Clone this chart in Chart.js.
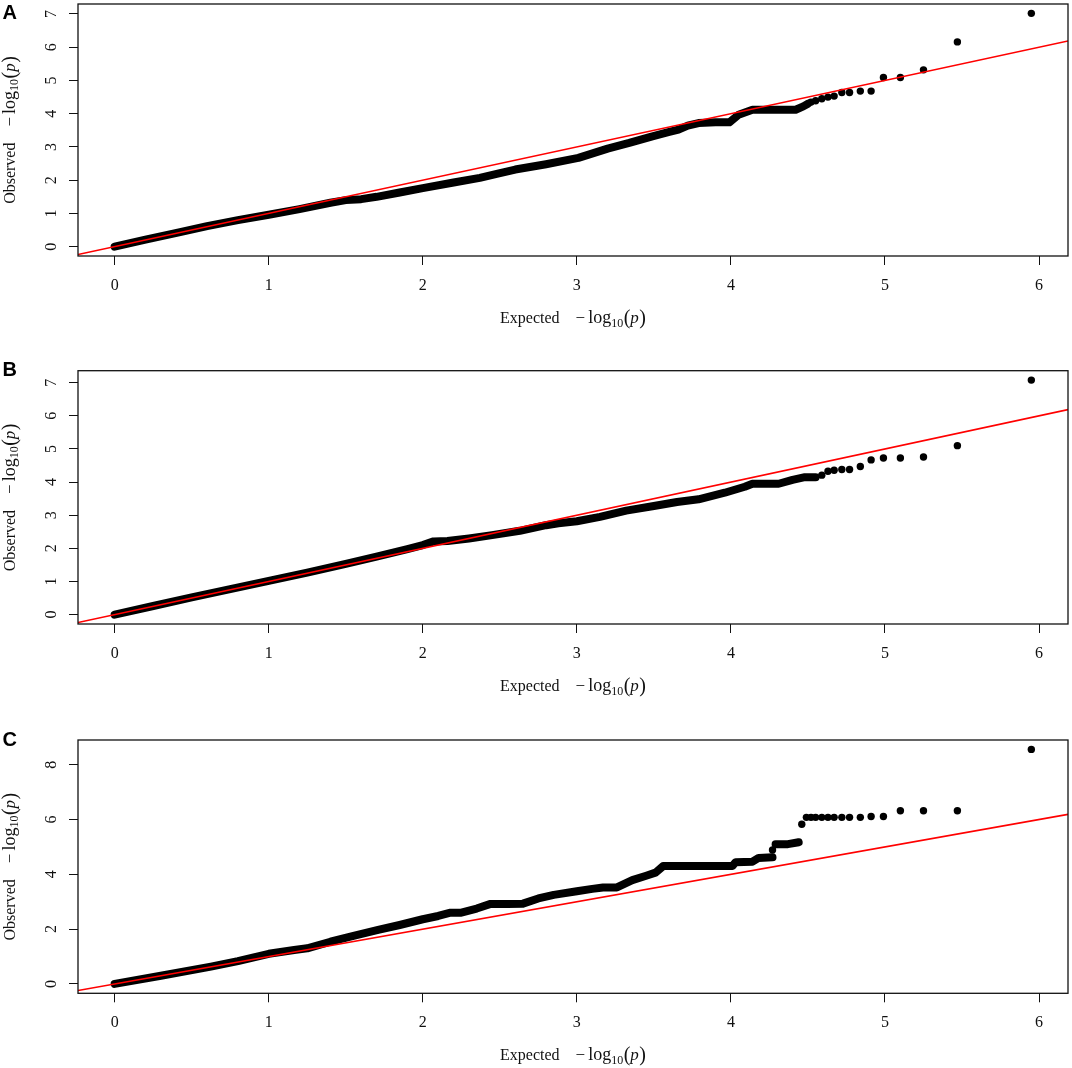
<!DOCTYPE html>
<html>
<head>
<meta charset="utf-8">
<script src="https://cdn.jsdelivr.net/npm/chart.js@4.4.1/dist/chart.umd.min.js"></script>
<style>
  body { margin: 0; background: #fff; width: 1072px; height: 1068px; position: relative; overflow: hidden; }
  .panel { position: absolute; left: 0; width: 1072px; height: 370px; }
</style>
</head>
<body>
<div class="panel" style="top:0px"><canvas id="qqA"></canvas></div>
<div class="panel" style="top:350px"><canvas id="qqB"></canvas></div>
<div class="panel" style="top:720px"><canvas id="qqC"></canvas></div>
<script>
// QQ plots of -log10(p): expected vs observed, three panels

const xTickVals = [0, 1, 2, 3, 4, 5, 6];
const yTicksAB = [0, 1, 2, 3, 4, 5, 6, 7];
const yTicksC = [0, 2, 4, 6, 8];

// Panel A - dense part of the point cloud, then the separate tail points
const aBandExp = [0, 0.2, 0.41, 0.6, 0.8, 1.0, 1.2, 1.4, 1.5, 1.6, 1.7, 1.85, 2.0, 2.2, 2.37, 2.48, 2.6, 2.8, 3.01, 3.2, 3.34, 3.49, 3.6, 3.66, 3.72, 3.79, 3.9, 3.99, 4.05, 4.14, 4.3, 4.42, 4.47, 4.5];
const aBandObs = [0, 0.21, 0.42, 0.62, 0.8, 0.96, 1.13, 1.32, 1.4, 1.43, 1.5, 1.63, 1.76, 1.93, 2.07, 2.19, 2.32, 2.48, 2.67, 2.95, 3.12, 3.32, 3.45, 3.52, 3.64, 3.72, 3.74, 3.74, 3.97, 4.12, 4.12, 4.12, 4.22, 4.3];
const aTailExp = [4.52, 4.55, 4.59, 4.63, 4.67, 4.72, 4.77, 4.84, 4.91, 4.99, 5.10, 5.25, 5.47, 5.95];
const aTailObs = [4.35, 4.39, 4.45, 4.50, 4.53, 4.64, 4.64, 4.68, 4.68, 5.09, 5.09, 5.32, 6.16, 7.02];

// Panel B
const bBandExp = [0, 0.25, 0.5, 0.75, 1.0, 1.25, 1.5, 1.7, 1.9, 2.0, 2.07, 2.16, 2.3, 2.45, 2.63, 2.8, 2.88, 3.0, 3.15, 3.32, 3.5, 3.65, 3.79, 3.96, 4.09, 4.14, 4.31, 4.4, 4.48, 4.55];
const bBandObs = [0, 0.26, 0.52, 0.77, 1.02, 1.27, 1.53, 1.75, 1.98, 2.1, 2.21, 2.22, 2.3, 2.4, 2.53, 2.7, 2.76, 2.82, 2.95, 3.14, 3.28, 3.4, 3.48, 3.68, 3.86, 3.95, 3.95, 4.07, 4.15, 4.15];
const bTailExp = [4.59, 4.63, 4.67, 4.72, 4.77, 4.84, 4.91, 4.99, 5.10, 5.25, 5.47, 5.95];
const bTailObs = [4.21, 4.33, 4.36, 4.38, 4.38, 4.47, 4.67, 4.73, 4.73, 4.76, 5.10, 7.08];

// Panel C (band breaks into two runs near 4.3)
const cBandExp = [0, 0.3, 0.625, 0.8, 1.0, 1.165, 1.25, 1.4, 1.55, 1.71, 1.85, 2.0, 2.1, 2.18, 2.25, 2.35, 2.44, 2.55, 2.65, 2.75, 2.85, 3.0, 3.1, 3.17, 3.26, 3.36, 3.45, 3.51, 3.56, 3.8, 4.01, 4.03, 4.14, 4.18, 4.27];
const cBandObs = [0, 0.3, 0.63, 0.83, 1.1, 1.24, 1.3, 1.54, 1.75, 1.97, 2.15, 2.36, 2.48, 2.6, 2.6, 2.75, 2.92, 2.92, 2.93, 3.12, 3.25, 3.38, 3.47, 3.52, 3.52, 3.79, 3.95, 4.06, 4.3, 4.3, 4.3, 4.44, 4.46, 4.6, 4.62];
const cStepExp = [4.29, 4.37, 4.44];
const cStepObs = [5.10, 5.10, 5.17];
const cTailExp = [4.27, 4.46, 4.49, 4.52, 4.55, 4.59, 4.63, 4.67, 4.72, 4.77, 4.84, 4.91, 4.99, 5.10, 5.25, 5.47, 5.95];
const cTailObs = [4.89, 5.83, 6.08, 6.08, 6.08, 6.08, 6.08, 6.08, 6.08, 6.08, 6.08, 6.11, 6.11, 6.32, 6.32, 6.32, 8.56];

const serif = "'Liberation Serif', 'DejaVu Serif', serif";
const CANVAS_H = 370;

const toPoints = (xs, ys) => xs.map((x, i) => ({ x: x, y: ys[i] }));

const panels = [
    { id: 'qqA', letter: 'A', top: 0, boxTop: 2, boxBottom: 256, letterY: 18.5, yTicks: yTicksAB,
      bands: [[aBandExp, aBandObs]], tail: [aTailExp, aTailObs] },
    { id: 'qqB', letter: 'B', top: 350, boxTop: 370.7, boxBottom: 624, letterY: 376.3, yTicks: yTicksAB,
      bands: [[bBandExp, bBandObs]], tail: [bTailExp, bTailObs] },
    { id: 'qqC', letter: 'C', top: 720, boxTop: 740, boxBottom: 993.3, letterY: 745.5, yTicks: yTicksC,
      bands: [[cBandExp, cBandObs], [cStepExp, cStepObs]], tail: [cTailExp, cTailObs] }
];

// "Word   -log10(p)" with subscript and italic p
function drawLogLabel(ctx, word, cx, baseline) {
    const parts = [
        { t: word, f: '16px ' + serif, dy: 0, gap: 16 },
        { t: '\u2212', f: '17px ' + serif, dy: 0, gap: 3 },
        { t: 'log', f: '18px ' + serif, dy: 0, gap: 0 },
        { t: '10', f: '12px ' + serif, dy: 3.5, gap: 0.5 },
        { t: '(', f: '20px ' + serif, dy: 1, gap: 0 },
        { t: 'p', f: 'italic 17px ' + serif, dy: 0, gap: 0.5 },
        { t: ')', f: '20px ' + serif, dy: 1, gap: 0 }
    ];
    let total = 0;
    parts.forEach(p => { ctx.font = p.f; p.w = ctx.measureText(p.t).width; total += p.w + p.gap; });
    total -= parts[parts.length - 1].gap;
    let x = cx - total / 2;
    ctx.textAlign = 'left';
    ctx.textBaseline = 'alphabetic';
    parts.forEach(p => { ctx.font = p.f; ctx.fillText(p.t, x, baseline + p.dy); x += p.w + p.gap; });
}

const framePlugin = {
    id: 'rFrame',
    afterDraw(chart, args, opts) {
        const { ctx, chartArea, scales } = chart;
        const cfg = opts.panel;
        ctx.save();
        ctx.strokeStyle = '#111';
        ctx.lineWidth = 1.3;
        ctx.strokeRect(chartArea.left, chartArea.top, chartArea.right - chartArea.left, chartArea.bottom - chartArea.top);

        ctx.fillStyle = '#111';
        // y tick labels, parallel to the axis like base R
        ctx.font = '16px ' + serif;
        ctx.textAlign = 'center';
        ctx.textBaseline = 'alphabetic';
        scales.y.ticks.forEach(t => {
            const py = scales.y.getPixelForValue(t.value);
            ctx.save();
            ctx.translate(56, py);
            ctx.rotate(-Math.PI / 2);
            ctx.fillText(String(t.value), 0, 0);
            ctx.restore();
        });

        const midX = (chartArea.left + chartArea.right) / 2;
        drawLogLabel(ctx, 'Expected', midX, chartArea.bottom + 67);

        ctx.save();
        ctx.translate(14.5, (chartArea.top + chartArea.bottom) / 2);
        ctx.rotate(-Math.PI / 2);
        drawLogLabel(ctx, 'Observed', 0, 0);
        ctx.restore();

        ctx.font = "bold 20px 'Liberation Sans', Arial, sans-serif";
        ctx.textAlign = 'left';
        ctx.fillStyle = '#000';
        ctx.fillText(cfg.letter, 2.5, cfg.letterY - cfg.top);
        ctx.restore();
    }
};

Chart.defaults.font.family = serif;
Chart.defaults.color = '#111';

panels.forEach(p => {
    const allExp = p.bands.flatMap(b => b[0]).concat(p.tail[0]);
    const allObs = p.bands.flatMap(b => b[1]).concat(p.tail[1]);
    const maxExp = Math.max(...allExp);
    const maxObs = Math.max(...allObs);
    const xMin = -0.04 * maxExp, xMax = 1.04 * maxExp;
    const yMin = -0.04 * maxObs, yMax = 1.04 * maxObs;

    const datasets = [{
        // y = x reference line across the whole plot region
        label: 'expected',
        data: [{ x: xMin, y: xMin }, { x: xMax, y: xMax }],
        showLine: true, borderColor: '#ff0000', borderWidth: 1.6,
        pointRadius: 0, clip: 0
    }];
    p.bands.forEach(b => {
        datasets.push({
            label: 'band', data: toPoints(b[0], b[1]), showLine: true,
            borderColor: '#000', borderWidth: 8, borderCapStyle: 'round', borderJoinStyle: 'round',
            pointRadius: 0, clip: false
        });
    });
    datasets.push({
        label: 'tail', data: toPoints(p.tail[0], p.tail[1]), showLine: false,
        pointRadius: 3.7, pointBackgroundColor: '#000', pointBorderWidth: 0, clip: false
    });

    new Chart(document.getElementById(p.id), {
        type: 'scatter',
        data: { datasets: datasets },
        options: {
            responsive: true, maintainAspectRatio: false, animation: false, events: [],
            layout: { padding: { top: p.boxTop - p.top, right: 4, left: 0, bottom: 0 } },
            plugins: { legend: { display: false }, tooltip: { enabled: false }, rFrame: { panel: p } },
            scales: {
                x: {
                    type: 'linear', min: xMin, max: xMax,
                    afterBuildTicks: s => { s.ticks = xTickVals.map(v => ({ value: v })); },
                    afterFit: s => { s.height = CANVAS_H - (p.boxBottom - p.top); },
                    border: { display: false },
                    grid: { drawOnChartArea: false, drawTicks: true, tickLength: 9, color: '#111', tickColor: '#111', lineWidth: 1 },
                    ticks: { autoSkip: false, maxRotation: 0, padding: 11, font: { size: 16, family: serif }, color: '#111', callback: v => String(v) }
                },
                y: {
                    type: 'linear', min: yMin, max: yMax,
                    afterBuildTicks: s => { s.ticks = p.yTicks.map(v => ({ value: v })); },
                    afterFit: s => { s.width = 78; },
                    border: { display: false },
                    grid: { drawOnChartArea: false, drawTicks: true, tickLength: 9, color: '#111', tickColor: '#111', lineWidth: 1 },
                    ticks: { display: false }
                }
            }
        },
        plugins: [framePlugin]
    });
});
</script>
</body>
</html>
